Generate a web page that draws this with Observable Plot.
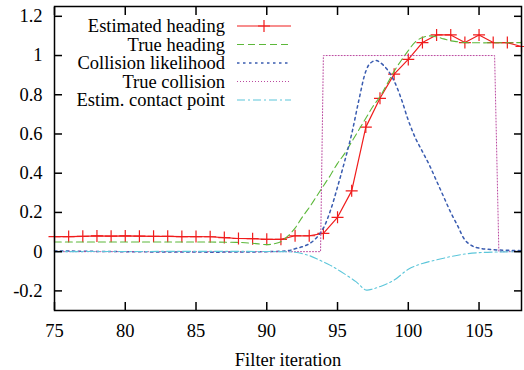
<!DOCTYPE html>
<html>
<head>
<meta charset="utf-8">
<script src="https://cdn.jsdelivr.net/npm/d3@7"></script>
<script src="https://cdn.jsdelivr.net/npm/@observablehq/plot@0.6"></script>
<style>
  html, body { margin: 0; padding: 0; background: #fff; }
  svg, svg text { font-family: "Liberation Serif", "DejaVu Serif", serif; }
</style>
</head>
<body>
<div id="chart"></div>
<script>
// ---- Data ----
const estIter = [75,76,77,78,79,80,81,82,83,84,85,86,87,88,89,90,91,92,93,94,95,96,97,98,99,100,101,102,103,104,105,106,107,108];
const estHeading = [0.077,0.077,0.078,0.080,0.079,0.080,0.079,0.078,0.078,0.077,0.077,0.076,0.072,0.067,0.066,0.063,0.063,0.081,0.081,0.093,0.175,0.31,0.635,0.782,0.905,0.98,1.066,1.105,1.105,1.066,1.105,1.066,1.066,1.046];

const trueIter = [75,86,88,89,90,90.5,91,91.5,92,92.5,93,93.5,94,94.5,95,95.5,96,96.5,97,97.5,98,98.5,99,99.5,100,100.5,101,101.5,102,102.5,103,103.5,104,108];
const trueHeading = [0.049,0.049,0.047,0.043,0.036,0.040,0.051,0.08,0.12,0.175,0.225,0.28,0.335,0.39,0.45,0.50,0.56,0.62,0.68,0.74,0.79,0.855,0.92,0.975,1.025,1.07,1.092,1.10,1.095,1.085,1.075,1.07,1.066,1.066];

const likeIter = [75,91.5,92,92.5,93,93.5,94,94.5,95,95.5,96,96.5,97,97.3,97.7,98,98.5,99,99.5,100,100.5,101,101.5,102,102.5,103,103.5,104,104.5,105,106,108];
const likelihood = [0.004,0.005,0.015,0.025,0.04,0.07,0.12,0.21,0.33,0.46,0.60,0.77,0.92,0.96,0.975,0.965,0.93,0.87,0.78,0.67,0.58,0.51,0.44,0.36,0.28,0.2,0.13,0.06,0.03,0.018,0.01,0.005];

const collIter = [75,93.8,94.0,106.1,106.4,108];
const trueCollision = [0,0,1,1,0,0];

const contactIter = [75,91,92,93,93.7,94.5,95.2,96.3,97,97.5,98,99,100,101,102,103,104,105,106,108];
const contactPoint = [0,0,-0.003,-0.02,-0.042,-0.07,-0.10,-0.153,-0.195,-0.19,-0.178,-0.145,-0.09,-0.06,-0.042,-0.025,-0.012,-0.005,-0.002,0];

const xTicks = [75,80,85,90,95,100,105];
const yTicks = [-0.2,0,0.2,0.4,0.6,0.8,1,1.2];
const yTickLabels = ["-0.2","0","0.2","0.4","0.6","0.8","1","1.2"];
const legendLabels = ["Estimated heading","True heading","Collision likelihood","True collision","Estim. contact point"];

// ---- Tables built from the arrays ----
const est = estIter.map((x,i) => ({x, y: estHeading[i]}));
const tru = trueIter.map((x,i) => ({x, y: trueHeading[i]}));
const like = likeIter.map((x,i) => ({x, y: likelihood[i]}));
const coll = collIter.map((x,i) => ({x, y: trueCollision[i]}));
const cont = contactIter.map((x,i) => ({x, y: contactPoint[i]}));

// ---- Styles ----
const RED = "#f01c1c", GREEN = "#5cb83a", BLUE = "#3a5cb0", MAGENTA = "#bb4aa0", CYAN = "#5cc6da";
const styles = [
  {stroke: RED, width: 1.2, dash: null, marker: true},
  {stroke: GREEN, width: 1.1, dash: "7,4"},
  {stroke: BLUE, width: 1.5, dash: "2.5,3.5"},
  {stroke: MAGENTA, width: 1, dash: "1,2"},
  {stroke: CYAN, width: 1.1, dash: "8,3,2,3"}
];

const plusSym = {
  draw(ctx, size) {
    const r = Math.sqrt(size / Math.PI);
    ctx.moveTo(-r, 0); ctx.lineTo(r, 0);
    ctx.moveTo(0, -r); ctx.lineTo(0, r);
  }
};

const FONT = '"Liberation Serif", "DejaVu Serif", serif';

const chart = Plot.plot({
  width: 524,
  height: 370,
  marginLeft: 54,
  marginRight: 3,
  marginTop: 6,
  marginBottom: 60,
  style: {fontFamily: FONT, fontSize: "18.5px", background: "#fff", color: "#000"},
  x: {domain: [75, 108]},
  y: {domain: [-0.3, 1.25]},
  marks: [
    Plot.line(est, {x: "x", y: "y", stroke: RED, strokeWidth: 1.2}),
    Plot.dot(est, {x: "x", y: "y", symbol: plusSym, r: 6, stroke: RED, fill: "none", strokeWidth: 1.2}),
    Plot.line(tru, {x: "x", y: "y", stroke: GREEN, strokeWidth: 1.1, strokeDasharray: "7,4", curve: "catmull-rom"}),
    Plot.line(like, {x: "x", y: "y", stroke: BLUE, strokeWidth: 1.5, strokeDasharray: "2.5,3.5", curve: "catmull-rom"}),
    Plot.line(coll, {x: "x", y: "y", stroke: MAGENTA, strokeWidth: 1, strokeDasharray: "1,2"}),
    Plot.line(cont, {x: "x", y: "y", stroke: CYAN, strokeWidth: 1.1, strokeDasharray: "8,3,2,3", curve: "catmull-rom"}),
    Plot.frame({stroke: "#000", strokeWidth: 1.5}),
    Plot.axisX(xTicks, {anchor: "bottom", tickSize: 0, tickPadding: 13, tickFormat: d => String(d),
      label: "Filter iteration", labelAnchor: "center", labelOffset: 55, labelArrow: "none"}),
    Plot.axisX(xTicks, {anchor: "bottom", tickSize: -8, fill: "none", label: null, strokeWidth: 1.5}),
    Plot.axisX(xTicks, {anchor: "top", tickSize: -8, fill: "none", label: null, strokeWidth: 1.5}),
    Plot.axisY(yTicks, {anchor: "left", tickSize: 0, tickPadding: 12, tickFormat: (d, i) => yTickLabels[i], label: null}),
    Plot.axisY(yTicks, {anchor: "left", tickSize: -8, fill: "none", label: null, strokeWidth: 1.5}),
    Plot.axisY(yTicks, {anchor: "right", tickSize: -8, fill: "none", label: null, strokeWidth: 1.5})
  ]
});

document.getElementById("chart").appendChild(chart);

// ---- Legend (gnuplot style, inside top-left) ----
const svg = d3.select(chart);
const lg = svg.append("g").attr("font-family", FONT).attr("font-size", 18.5).attr("fill", "#000");
legendLabels.forEach((lab, i) => {
  const y = 26 + i * 18.5;
  const s = styles[i];
  lg.append("text").attr("x", 225).attr("y", y).attr("dy", "0.35em").attr("text-anchor", "end").text(lab);
  const ln = lg.append("line").attr("x1", 237).attr("x2", 291).attr("y1", y).attr("y2", y)
    .attr("stroke", s.stroke).attr("stroke-width", s.width);
  if (s.dash) ln.attr("stroke-dasharray", s.dash);
  if (s.marker) {
    lg.append("path").attr("d", `M${264-6},${y}h12M264,${y-6}v12`).attr("stroke", s.stroke).attr("stroke-width", 1.2).attr("fill", "none");
  }
});
</script>
</body>
</html>
